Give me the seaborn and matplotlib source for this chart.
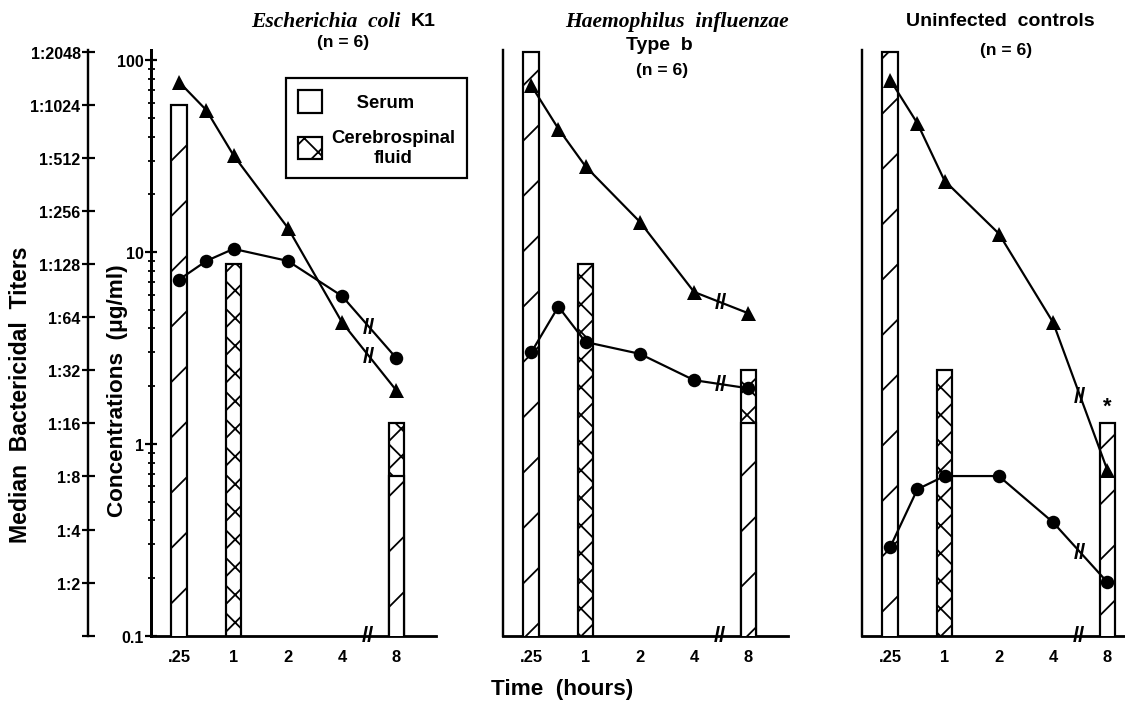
import numpy as np
import matplotlib
matplotlib.use("Agg")
import matplotlib.pyplot as plt
import matplotlib.transforms as mtransforms
from matplotlib.patches import Patch
from matplotlib.ticker import LogLocator, NullFormatter, NullLocator
import seaborn as sns

# ---- data -------------------------------------------------------------
TIME_LABELS = [".25", "1", "2", "4", "8"]
LINE_HOURS = [0.25, 0.5, 1, 2, 4, 8]
# where each sampling time sits on the broken time axis
HOUR_POS = {0.25: 0, 0.5: 0.5, 1: 1, 2: 2, 4: 3, 8: 4}

# drug concentrations (ug/ml), lines
ECOLI_SERUM_CONC = [77, 55, 32, 13.4, 4.3, 1.9]
ECOLI_CSF_CONC = [7.2, 9.0, 10.4, 9.0, 5.9, 2.8]
HIB_SERUM_CONC = [74, 44, 28, 14.4, 6.2, 4.8]
HIB_CSF_CONC = [3.0, 5.2, 3.4, 2.95, 2.15, 1.95]
CTRL_SERUM_CONC = [79, 47, 23.6, 12.5, 4.3, 0.73]
CTRL_CSF_CONC = [0.29, 0.58, 0.68, 0.68, 0.39, 0.19]

# median bactericidal titers (reciprocal), bars
ECOLI_SERUM_TITER_HOURS = [0.25, 8]
ECOLI_SERUM_TITERS = [1024, 8]
ECOLI_CSF_TITER_HOURS = [1, 8]
ECOLI_CSF_TITERS = [128, 16]
HIB_SERUM_TITER_HOURS = [0.25, 8]
HIB_SERUM_TITERS = [2048, 16]
HIB_CSF_TITER_HOURS = [1, 8]
HIB_CSF_TITERS = [128, 32]
CTRL_SERUM_TITER_HOURS = [0.25, 8]
CTRL_SERUM_TITERS = [2048, 16]
CTRL_CSF_TITER_HOURS = [1]
CTRL_CSF_TITERS = [32]

TITER_TICKS = [2 ** k for k in range(12)]
TITER_LABELS = [""] + [f"1:{t}" for t in TITER_TICKS[1:]]
CONC_TICKS = [0.1, 1, 10, 100]
CONC_LABELS = ["0.1", "1", "10", "100"]

# ---- sizing (work in pixels) -------------------------------------------
W, H, DPI = 1125, 706, 166
PX = 72 / DPI


def pt(px):
    return px * PX


sns.set_theme(style="white")
plt.rcParams["font.family"] = ["Liberation Sans", "DejaVu Sans"]
plt.rcParams["font.weight"] = "bold"
plt.rcParams["hatch.linewidth"] = pt(1.8)
plt.rcParams["axes.edgecolor"] = "black"
plt.rcParams["text.color"] = "black"
plt.rcParams["axes.labelcolor"] = "black"
plt.rcParams["xtick.color"] = "black"
plt.rcParams["ytick.color"] = "black"

fig = plt.figure(figsize=(W / DPI, H / DPI), dpi=DPI)
fig.patch.set_facecolor("white")

AX_LEFT = [151, 503, 862]
AX_W, AX_TOP, AX_BOT = 285, 51.2, 636.7
XLIM = (-0.52, 4.73)
TITER_LIM = (1, 2087)
CONC_LIM = (0.1, 113)
BAR_W = 0.285

panels = [
    (ECOLI_SERUM_CONC, ECOLI_CSF_CONC, ECOLI_SERUM_TITER_HOURS, ECOLI_SERUM_TITERS,
     ECOLI_CSF_TITER_HOURS, ECOLI_CSF_TITERS),
    (HIB_SERUM_CONC, HIB_CSF_CONC, HIB_SERUM_TITER_HOURS, HIB_SERUM_TITERS,
     HIB_CSF_TITER_HOURS, HIB_CSF_TITERS),
    (CTRL_SERUM_CONC, CTRL_CSF_CONC, CTRL_SERUM_TITER_HOURS, CTRL_SERUM_TITERS,
     CTRL_CSF_TITER_HOURS, CTRL_CSF_TITERS),
]

line_x = [HOUR_POS[h] for h in LINE_HOURS]
BREAK = dict(ha="center", va="center", fontsize=pt(22), fontweight="bold", color="black")

for i, (s_conc, c_conc, s_th, s_t, c_th, c_t) in enumerate(panels):
    ax = fig.add_axes([AX_LEFT[i] / W, 1 - AX_BOT / H, AX_W / W, (AX_BOT - AX_TOP) / H])
    ax.set_facecolor("none")
    ax.set_yscale("log", base=2)
    ax.set_ylim(*TITER_LIM)

    # bars: CSF first so the serum bar sits on top where they share a time
    ax.bar([HOUR_POS[h] for h in c_th], c_t, width=BAR_W, color="white",
           edgecolor="black", hatch="xx", linewidth=pt(2.2), zorder=2)
    ax.bar([HOUR_POS[h] for h in s_th], s_t, width=BAR_W, color="white",
           edgecolor="black", hatch="/", linewidth=pt(2.2), zorder=3)

    axc = ax.twinx()
    axc.set_yscale("log")
    axc.set_ylim(*CONC_LIM)
    sns.lineplot(x=line_x, y=s_conc, ax=axc, color="black", marker="^",
                 markersize=pt(15), markeredgewidth=0, linewidth=pt(2.2), sort=False)
    sns.lineplot(x=line_x, y=c_conc, ax=axc, color="black", marker="o",
                 markersize=pt(13.5), markeredgewidth=0, linewidth=pt(2.2), sort=False)
    axc.set_ylim(*CONC_LIM)
    axc.set_xlabel("")
    axc.set_ylabel("")

    # break marks on the lines between 4 and 8 hours
    for vals in (s_conc, c_conc):
        axc.text(3.5, np.sqrt(vals[4] * vals[5]), "//", **BREAK)

    for sp in ["top", "right"]:
        ax.spines[sp].set_visible(False)
    for sp in ["top", "right", "bottom"]:
        axc.spines[sp].set_visible(False)
    ax.spines["bottom"].set_linewidth(pt(2.8))
    ax.spines["left"].set_linewidth(pt(2.4))

    ax.set_xticks(range(len(TIME_LABELS)), TIME_LABELS)
    ax.tick_params(axis="x", direction="out", length=pt(7), width=pt(2.2),
                   labelsize=pt(16.5), pad=pt(6), colors="black")
    ax.yaxis.set_minor_locator(NullLocator())

    if i == 0:
        ax.spines["left"].set_position(("outward", pt(63)))
        ax.set_yticks(TITER_TICKS, TITER_LABELS)
        ax.tick_params(axis="y", direction="inout", length=pt(13), width=pt(2.2),
                       labelsize=pt(16), pad=pt(1), colors="black")
        axc.yaxis.tick_left()
        axc.spines["left"].set_linewidth(pt(3))
        axc.set_yticks(CONC_TICKS, CONC_LABELS)
        axc.yaxis.set_minor_locator(LogLocator(base=10, subs=np.arange(2, 10)))
        axc.yaxis.set_minor_formatter(NullFormatter())
        axc.tick_params(axis="y", which="major", direction="inout", length=pt(12),
                        width=pt(2.2), labelsize=pt(16), pad=pt(1.5), colors="black")
        axc.tick_params(axis="y", which="minor", direction="inout", length=pt(7),
                        width=pt(1.8), colors="black")
    else:
        ax.set_yticks([])
        axc.spines["left"].set_visible(False)
        axc.set_yticks([])
        axc.yaxis.set_minor_locator(NullLocator())

    ax.set_xlim(*XLIM)

    # broken time axis
    brk = mtransforms.blended_transform_factory(ax.transData, ax.transAxes)
    ax.text(3.47, 0, "//", transform=brk, clip_on=False, **BREAK)

    if i == 2:
        ax.annotate("*", xy=(HOUR_POS[8], s_t[-1]), xytext=(0, pt(17)),
                    textcoords="offset points", ha="center", va="center",
                    fontsize=pt(22), fontweight="bold", color="black")

    if i == 0:
        handles = [
            Patch(facecolor="white", edgecolor="black", hatch="/", linewidth=pt(2.2)),
            Patch(facecolor="white", edgecolor="black", hatch="xx", linewidth=pt(2.2)),
        ]
        leg = axc.legend(handles, ["     Serum", "Cerebrospinal\nfluid"],
                         loc="upper left", bbox_to_anchor=(286 / W, 1 - 79 / H),
                         bbox_transform=fig.transFigure, borderaxespad=0,
                         fontsize=pt(18.5), handlelength=1.3, handleheight=1.5,
                         handletextpad=0.5, borderpad=0.65, labelspacing=0.9,
                         fancybox=False, framealpha=1, edgecolor="black")
        leg.get_frame().set_linewidth(pt(2.2))
        for t in leg.get_texts():
            t.set_multialignment("center")
            t.set_color("black")


def ftext(x, y, s, **kw):
    fig.text(x / W, 1 - y / H, s, ha=kw.pop("ha", "center"), va="center",
             color="black", **kw)


SERIF = dict(family="Liberation Serif", style="italic", fontweight="bold", fontsize=pt(21.5))
SANS_T = dict(fontweight="bold", fontsize=pt(19.5))
SANS_N = dict(fontweight="bold", fontsize=pt(17.5))

# panel titles
ftext(401, 22, "Escherichia  coli", ha="right", **SERIF)
ftext(411, 22, "K1", ha="left", **SANS_T)
ftext(343, 43, "(n = 6)", **SANS_N)
ftext(677, 22, "Haemophilus  influenzae", **SERIF)
ftext(659, 46, "Type  b", **SANS_T)
ftext(662, 70, "(n = 6)", **SANS_N)
ftext(1000, 21, "Uninfected  controls", **SANS_T)
ftext(1006, 50, "(n = 6)", **SANS_N)

# axis labels
ftext(21, 395, "Median  Bactericidal  Titers", rotation=90, fontweight="bold", fontsize=pt(23))
ftext(117, 391, "Concentrations  (μg/ml)", rotation=90, fontweight="bold", fontsize=pt(22.5))
ftext(562, 690, "Time  (hours)", fontweight="bold", fontsize=pt(22.5))

fig.savefig("out.png", dpi=DPI, facecolor="white")
